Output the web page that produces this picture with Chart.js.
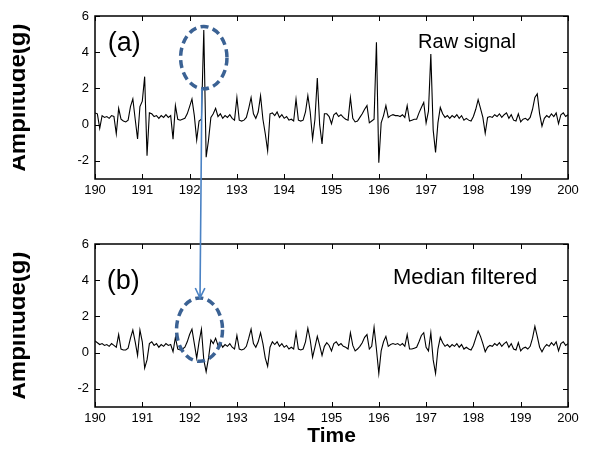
<!DOCTYPE html>
<html><head><meta charset="utf-8">
<script src="https://cdn.jsdelivr.net/npm/chart.js@4.4.0/dist/chart.umd.min.js"></script>
<style>
html,body{margin:0;padding:0;background:#fff;}
#wrap{position:relative;width:589px;height:454px;overflow:hidden;background:#fff;}
#c1{position:absolute;left:0;top:0;width:589px;height:210px;}
#c2{position:absolute;left:0;top:210px;width:589px;height:244px;}
#ov{position:absolute;left:0;top:0;width:589px;height:454px;pointer-events:none;}
</style></head><body>
<div id="wrap">
<canvas id="c1" width="589" height="210"></canvas>
<canvas id="c2" width="589" height="244"></canvas>
<canvas id="ov" width="589" height="454"></canvas>
</div>
<script>
// ---- data ----
const T_START = 190;      // s
const T_STEP = 0.05;      // s between samples
const X_TICKS = [190,191,192,193,194,195,196,197,198,199,200];
const Y_TICKS = [-2,0,2,4,6];

const rawSignal = [
 0.65,0.6,-0.2,0.5,0.4,0.45,0.35,0.5,0.45,-0.5, 0.9,0.3,0.2,0.15,0.25,1.0,1.42,0.3,-0.79,1.0,
 1.3,2.65,-1.71,0.65,0.6,0.45,0.5,0.35,0.5,0.4, 0.55,0.4,0.5,-0.8,1.05,0.3,0.25,0.3,0.35,0.6,
 1.0,1.42,0.5,-0.85,0.2,0.3,5.23,-1.8,-0.85,0.4, 0.6,0.9,0.45,0.6,0.35,0.5,0.4,0.55,0.35,0.25,
 1.5,0.25,0.2,0.25,0.4,0.9,1.5,0.6,0.35,0.7, 1.6,0.3,-0.5,-1.44,0.6,0.65,0.5,0.7,0.4,0.55,
 0.35,0.45,0.25,0.3,0.2,1.4,0.25,0.2,0.25,0.7, 1.6,0.7,-0.79,0.3,2.58,0.0,-1.07,0.6,0.6,0.45,
 0.05,0.55,0.65,0.45,0.55,0.4,0.3,0.25,1.5,0.35, 0.15,0.2,0.4,0.6,0.85,1.05,0.1,0.2,0.3,4.55,
 -2.1,0.1,0.5,1.05,0.4,0.5,0.55,0.5,0.5,0.45, 0.55,0.4,1.05,0.2,0.25,0.3,0.3,0.65,0.95,1.23,
 0.1,0.75,3.9,-0.3,-1.53,0.1,0.95,0.6,0.4,0.5, 0.35,0.5,0.4,0.55,0.35,0.5,0.25,0.35,0.25,0.2,
 0.45,0.85,1.38,0.9,0.4,-0.48,0.4,0.45,0.4,0.55, 0.45,0.6,0.4,0.55,0.65,0.35,0.55,0.25,0.2,0.6,
 0.15,0.3,0.35,0.25,0.4,0.85,1.5,1.7,0.6,-0.08, 0.35,0.5,0.4,0.6,0.45,0.65,0.05,0.55,0.65,0.45,
 0.55
];

const medianFiltered = [
 0.65,0.55,0.45,0.5,0.4,0.45,0.35,0.5,0.4,0.3, 1.0,0.2,0.15,0.15,0.25,0.8,1.25,0.6,-0.15,1.25,
 0.6,-0.85,-0.4,0.5,0.6,0.4,0.5,0.3,0.45,0.35, 0.5,0.4,0.45,0.05,0.85,0.2,0.15,0.2,0.3,0.6,
 1.0,1.3,0.5,-0.3,0.6,1.3,-0.4,-1.05,-0.3,0.7, 0.5,0.8,0.4,0.55,0.3,0.45,0.35,0.5,0.3,0.2,
 0.95,0.2,0.15,0.2,0.35,0.8,1.3,0.5,0.3,0.6, 1.1,0.5,-0.3,-0.75,0.3,0.6,0.45,0.6,0.35,0.5,
 0.3,0.4,0.2,0.3,0.2,1.1,0.2,0.15,0.2,0.6, 1.35,0.7,-0.25,0.3,0.9,0.4,-0.15,0.35,0.55,0.4,
 0.1,0.5,0.6,0.4,0.5,0.35,0.3,0.2,1.1,0.4, 0.1,0.2,0.35,0.55,0.85,1.0,0.2,0.35,1.4,0.2,
 -1.15,0.1,0.6,0.9,0.35,0.45,0.5,0.45,0.5,0.4, 0.5,0.35,1.0,0.2,0.2,0.25,0.3,0.6,0.95,1.1,
 0.3,0.1,1.1,-0.4,-1.15,0.2,0.85,0.55,0.35,0.45, 0.3,0.45,0.35,0.5,0.3,0.45,0.2,0.3,0.2,0.15,
 0.4,0.8,1.2,0.9,0.5,0.05,0.3,0.4,0.35,0.5, 0.4,0.55,0.35,0.5,0.6,0.3,0.5,0.2,0.15,0.55,
 0.1,0.25,0.3,0.2,0.35,0.8,1.45,0.9,0.3,0.05, 0.3,0.45,0.35,0.55,0.4,0.6,0.1,0.5,0.6,0.4,
 0.5
];

const FONT = "'Liberation Sans', Arial, sans-serif";

function toPoints(arr){ return arr.map((v,i)=>({x: T_START + i*T_STEP, y: v})); }

// frame with inward ticks on all four sides
const framePlugin = {
  id: 'frame',
  afterDraw(chart) {
    const {ctx, chartArea: a, scales: {x, y}} = chart;
    ctx.save();
    ctx.strokeStyle = '#000';
    ctx.lineWidth = 1.5;
    ctx.strokeRect(a.left, a.top, a.right - a.left, a.bottom - a.top);
    ctx.lineWidth = 1;
    ctx.beginPath();
    x.ticks.forEach(t => {
      const px = Math.round(x.getPixelForValue(t.value)) + 0.5;
      ctx.moveTo(px, a.bottom); ctx.lineTo(px, a.bottom - 5);
      ctx.moveTo(px, a.top); ctx.lineTo(px, a.top + 5);
    });
    y.ticks.forEach(t => {
      const py = Math.round(y.getPixelForValue(t.value)) + 0.5;
      ctx.moveTo(a.left, py); ctx.lineTo(a.left + 5, py);
      ctx.moveTo(a.right, py); ctx.lineTo(a.right - 5, py);
    });
    ctx.stroke();
    ctx.restore();
  }
};

// panel texts in data coordinates + clipped rotated y title
const textPlugin = {
  id: 'panelText',
  afterDraw(chart, args, opts) {
    const {ctx, chartArea: a, scales: {x, y}} = chart;
    ctx.save();
    ctx.fillStyle = '#000';
    (opts.items || []).forEach(it => {
      ctx.font = it.font;
      ctx.textAlign = 'left';
      ctx.textBaseline = 'middle';
      ctx.fillText(it.text, x.getPixelForValue(it.t), y.getPixelForValue(it.v));
    });
    if (opts.yTitle) {
      ctx.save();
      ctx.beginPath();
      ctx.rect(13, 0, 40, chart.height);
      ctx.clip();
      ctx.translate(25, (a.top + a.bottom) / 2);
      ctx.rotate(-Math.PI / 2);
      ctx.font = "bold 24px " + FONT;
      ctx.textAlign = 'center';
      ctx.textBaseline = 'alphabetic';
      ctx.fillText(opts.yTitle, 0, 0);
      ctx.restore();
    }
    ctx.restore();
  }
};

function makeChart(id, data, pad, xHeight, items, withTime) {
  return new Chart(document.getElementById(id), {
    type: 'line',
    data: { datasets: [{ data: toPoints(data), borderColor: '#000', borderWidth: 1.1,
      pointRadius: 0, tension: 0, fill: false }] },
    options: {
      responsive: false, animation: false, devicePixelRatio: 1,
      layout: { padding: pad },
      plugins: { legend: { display: false }, tooltip: { enabled: false },
        panelText: { items: items, yTitle: 'Amplitude(g)' } },
      scales: {
        x: { type: 'linear', min: 190, max: 200,
          afterBuildTicks: s => { s.ticks = X_TICKS.map(v => ({value: v})); },
          afterFit: s => { s.height = xHeight; },
          grid: { display: false, drawTicks: false }, border: { display: false },
          ticks: { font: { family: FONT, size: 13 }, color: '#000', padding: 4,
            maxRotation: 0, autoSkip: false, callback: v => String(v) },
          title: { display: withTime, text: 'Time', color: '#000',
            font: { family: FONT, size: 21, weight: 'bold' }, padding: { top: 0, bottom: 5 } } },
        y: { type: 'linear', min: -3, max: 6,
          afterBuildTicks: s => { s.ticks = Y_TICKS.map(v => ({value: v})); },
          afterFit: s => { s.width = 95; },
          grid: { display: false, drawTicks: false }, border: { display: false },
          ticks: { font: { family: FONT, size: 13 }, color: '#000', padding: 6,
            callback: v => String(v) } }
      }
    },
    plugins: [framePlugin, textPlugin]
  });
}

const chartA = makeChart('c1', rawSignal, {top: 16, left: 0, right: 21, bottom: 0}, 31, [
  { text: '(a)', t: 190.27, v: 4.47, font: "27px " + FONT },
  { text: 'Raw signal', t: 196.83, v: 4.56, font: "20px " + FONT }
], false);
const chartB = makeChart('c2', medianFiltered, {top: 34, left: 0, right: 21, bottom: 0}, 47, [
  { text: '(b)', t: 190.25, v: 3.93, font: "27px " + FONT },
  { text: 'Median filtered', t: 196.3, v: 4.1, font: "22px " + FONT }
], true);

// ---- annotations (ellipses + arrow), positioned via the charts' scales ----
const OFFSET_B = 210; // top of second canvas in page
const ellipses = [
  { chart: chartA, off: 0, t: 192.30, v: 3.70, dt: 0.49, dv: 1.72 },
  { chart: chartB, off: OFFSET_B, t: 192.21, v: 1.27, dt: 0.486, dv: 1.75 }
];
const arrow = { from: { chart: chartA, off: 0, t: 192.26, v: 1.98 },
                to:   { chart: chartB, off: OFFSET_B, t: 192.22, v: 3.02 } };

function pagePt(p) {
  return { x: p.chart.scales.x.getPixelForValue(p.t),
           y: p.chart.scales.y.getPixelForValue(p.v) + p.off };
}

const ov = document.getElementById('ov').getContext('2d');
ellipses.forEach(e => {
  const c = pagePt(e);
  const rx = e.chart.scales.x.getPixelForValue(e.t + e.dt) - c.x;
  const ry = e.chart.scales.y.getPixelForValue(e.v - e.dv) + e.off - c.y;
  ov.save();
  ov.strokeStyle = '#3b6294';
  ov.lineWidth = 3.5;
  ov.setLineDash([8, 4.5]);
  ov.beginPath();
  ov.ellipse(c.x, c.y, rx, ry, 0, 0, Math.PI * 2);
  ov.stroke();
  ov.restore();
});
(function drawArrow(){
  const a = pagePt(arrow.from), b = pagePt(arrow.to);
  ov.save();
  ov.strokeStyle = '#4a82c4';
  ov.lineWidth = 1.6;
  ov.beginPath();
  ov.moveTo(a.x, a.y); ov.lineTo(b.x, b.y);
  const ang = Math.atan2(b.y - a.y, b.x - a.x);
  const L = 11, w = 0.45;
  ov.moveTo(b.x - L * Math.cos(ang - w), b.y - L * Math.sin(ang - w));
  ov.lineTo(b.x, b.y);
  ov.lineTo(b.x - L * Math.cos(ang + w), b.y - L * Math.sin(ang + w));
  ov.stroke();
  ov.restore();
})();
</script>
</body></html>
